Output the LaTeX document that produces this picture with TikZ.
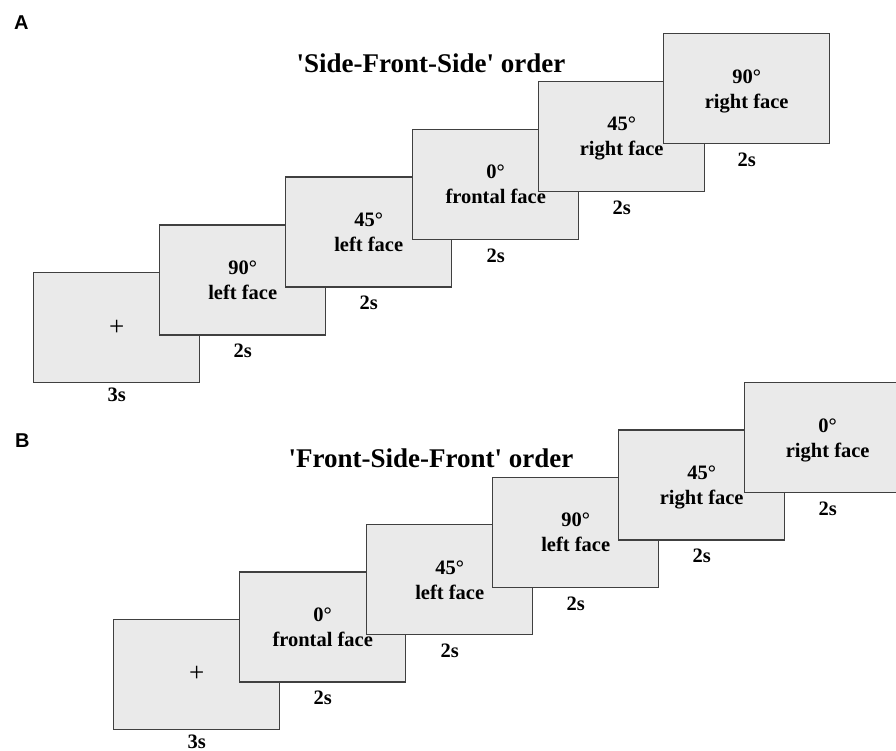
\documentclass[tikz,border=0pt]{standalone}
\usepackage{fontspec}
\setmainfont{Liberation Serif}
\newfontfamily\panelfont{Liberation Sans}

\definecolor{boxfill}{HTML}{EAEAEA}
\definecolor{boxline}{HTML}{404040}

\tikzset{
  slide/.style={draw=boxline, fill=boxfill, line width=1.4pt,
    minimum width=166pt, minimum height=110pt, inner sep=0pt, anchor=north west},
  facetext/.style={font=\bfseries\fontsize{20.5}{25}\selectfont, inner sep=0pt, anchor=base},
  crosstext/.style={font=\fontsize{27}{30}\selectfont, inner sep=0pt},
  ordertitle/.style={font=\bfseries\fontsize{27}{32}\selectfont, inner sep=0pt, anchor=base},
  panellabel/.style={font=\panelfont\bfseries\fontsize{20}{24}\selectfont, inner sep=0pt, anchor=base west},
}

% one stimulus screen: name, top-left x, top-left y, angle, view, duration
\newcommand\stimslide[6]{%
  \node[slide] (#1) at (#2,#3) {};
  \node[facetext] (#1-deg) at ([yshift=5.5pt]#1.center) {#4};
  \node[facetext] (#1-view) at ([yshift=-19.5pt]#1.center) {#5};
  \node[facetext] (#1-dur) at ([yshift=-22pt]#1.south) {#6};
}
% fixation screen with a cross
\newcommand\fixslide[3]{%
  \node[slide] (#1) at (#2,#3) {};
  \node[crosstext] (#1-cross) at (#1.center) {+};
  \node[facetext] (#1-dur) at ([yshift=-18.5pt]#1.south) {3s};
}

\begin{document}
\begin{tikzpicture}[x=1pt, y=-1pt]
  \useasboundingbox (0,0) rectangle (896,751);
  \clip (0,0) rectangle (896,751);

  % panel A
  \node[panellabel] (labelA) at (14,30) {A};
  \node[ordertitle] (titleA) at (431,73)
    {\textquotesingle Side-Front-Side\textquotesingle{} order};
  \fixslide{a0}{33}{272}
  \stimslide{a1}{159}{224.2}{90°}{left face}{2s}
  \stimslide{a2}{285}{176.4}{45°}{left face}{2s}
  \stimslide{a3}{412}{128.6}{0°}{frontal face}{2s}
  \stimslide{a4}{538}{80.8}{45°}{right face}{2s}
  \stimslide{a5}{663}{33}{90°}{right face}{2s}

  % panel B
  \node[panellabel] (labelB) at (15,447) {B};
  \node[ordertitle] (titleB) at (431,467)
    {\textquotesingle Front-Side-Front\textquotesingle{} order};
  \fixslide{b0}{113}{618.5}
  \stimslide{b1}{239}{571.2}{0°}{frontal face}{2s}
  \stimslide{b2}{366}{523.9}{45°}{left face}{2s}
  \stimslide{b3}{492}{476.6}{90°}{left face}{2s}
  \stimslide{b4}{618}{429.3}{45°}{right face}{2s}
  \stimslide{b5}{744}{382}{0°}{right face}{2s}
\end{tikzpicture}
\end{document}
